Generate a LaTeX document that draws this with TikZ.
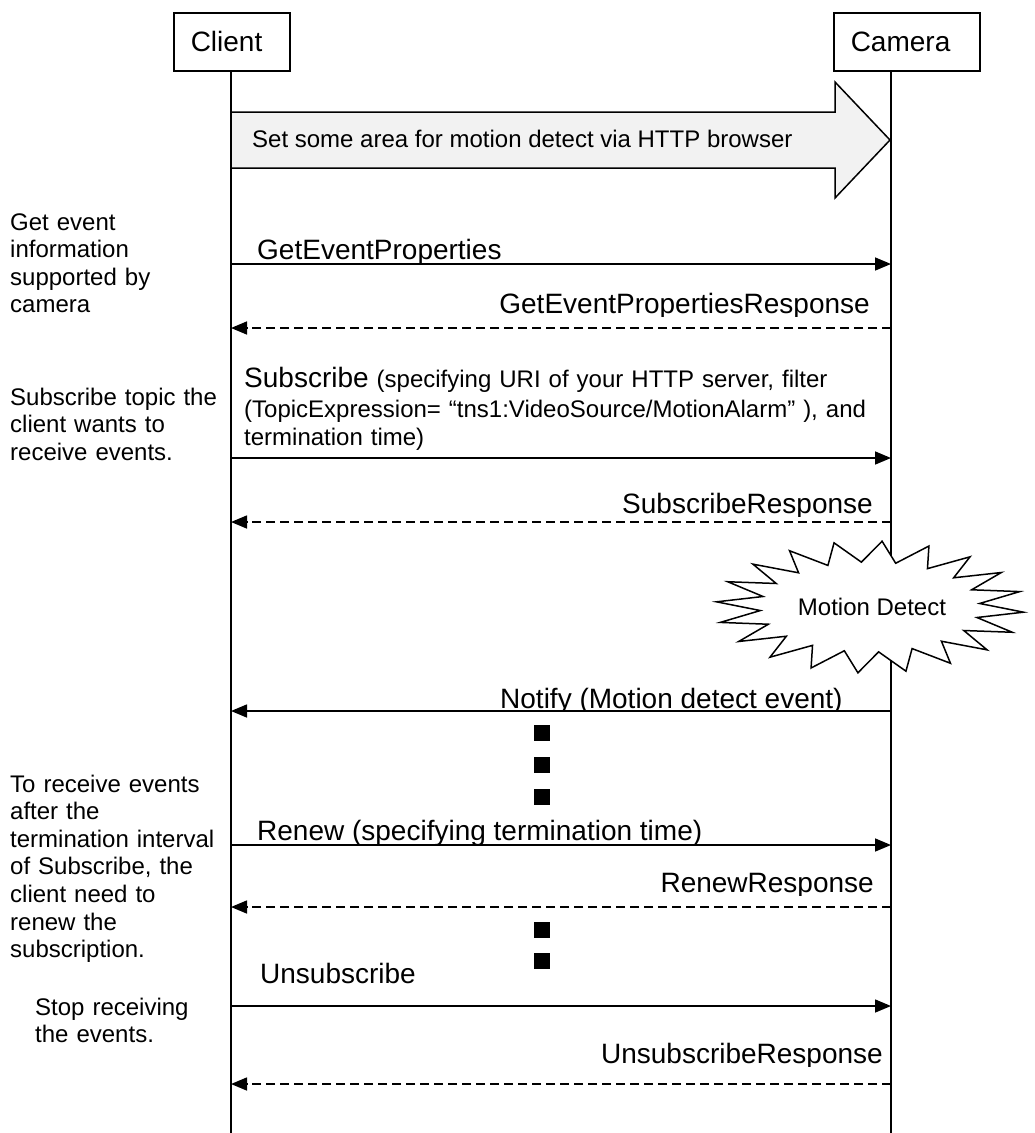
\documentclass[tikz,border=0pt]{standalone}
\usepackage{fontspec}
\setmainfont{Liberation Sans}
\usetikzlibrary{arrows.meta}

\newcommand\msgtext[6]{%
  \begin{scope}
    \clip (0,0) rectangle (1035,#5);
    \node[lbl,anchor=#2] (#1) at (#3,#4) {#6};
  \end{scope}}

\begin{document}
\begin{tikzpicture}[x=1pt,y=-1pt,
  actor/.style={draw,line width=1.5pt,fill=white,minimum height=58pt,inner xsep=17pt,
    align=left,font=\fontsize{28}{32}\selectfont,anchor=north west},
  life/.style={line width=1.5pt},
  lbl/.style={inner sep=0pt,font=\fontsize{28}{32}\selectfont},
  note/.style={inner sep=0pt,align=left,text width=230pt,font=\fontsize{24}{27.6}\selectfont,anchor=base west},
  call/.style={line width=1.6pt,-{Triangle[length=16pt,width=13pt]}},
  reply/.style={call,dash pattern=on 9pt off 5pt},
  dotsq/.style={fill=black,minimum size=16pt,inner sep=0pt},
  bigarrow/.style={draw,line width=1.5pt,fill=black!5},
  burst/.style={draw,line width=1.5pt,fill=white,line join=miter}]

\useasboundingbox (0,0) rectangle (1035,1133);

% participants
\node[actor,text width=82pt] (client) at (173,12) {Client};
\node[actor,text width=112pt] (camera) at (833,12) {Camera};

% lifelines
\coordinate (clTop) at (231,70);
\coordinate (clBot) at (231,1133);
\coordinate (caTop) at (891,70);
\coordinate (caBot) at (891,1133);
\draw[life] (clTop) -- (clBot);
\draw[life] (caTop) -- (caBot);

% configuration step shown as a block arrow
\draw[bigarrow] (231,112) -- (835,112) -- (835,82) -- (890,140) -- (835,198)
  -- (835,168) -- (231,168) -- cycle;
\node[inner sep=0pt,anchor=base west,font=\fontsize{24}{28}\selectfont] (setup)
  at (252,147) {Set some area for motion detect via HTTP browser};

% side notes
\node[note] (n1) at (10,230) {Get event\\information\\supported by\\camera};
\node[note] (n2) at (10,405) {Subscribe topic the\\client wants to\\receive events.};
\node[note] (n3) at (10,792) {To receive events\\after the\\termination interval\\of Subscribe, the\\client need to\\renew the\\subscription.};
\node[note] (n4) at (35,1015) {Stop receiving\\the events.};

% message end points
\coordinate (a1) at (231,264);  \coordinate (b1) at (891,264);
\coordinate (a2) at (231,328);  \coordinate (b2) at (891,328);
\coordinate (a3) at (231,458);  \coordinate (b3) at (891,458);
\coordinate (a4) at (231,522);  \coordinate (b4) at (891,522);
\coordinate (a5) at (231,711);  \coordinate (b5) at (891,711);
\coordinate (a6) at (231,845);  \coordinate (b6) at (891,845);
\coordinate (a7) at (231,907);  \coordinate (b7) at (891,907);
\coordinate (a8) at (231,1006); \coordinate (b8) at (891,1006);
\coordinate (a9) at (231,1084); \coordinate (b9) at (891,1084);

% message labels
\msgtext{l1}{base west}{257}{259}{263}{GetEventProperties}
\msgtext{l2}{base east}{870}{313}{316}{GetEventPropertiesResponse}
\node[inner sep=0pt,anchor=base west,align=left,text width=640pt,
  font=\fontsize{24}{30.5}\selectfont] (l3) at (244,387)
  {{\fontsize{28}{30.5}\selectfont Subscribe} (specifying URI of your HTTP server, filter\\
   (TopicExpression= “tns1:VideoSource/MotionAlarm” ), and\\[-3pt]
   termination time)};
\msgtext{l4}{base east}{873}{513}{516}{SubscribeResponse}
\msgtext{l5}{base west}{500}{708}{710}{Notify (Motion detect event)}
\msgtext{l6}{base west}{257}{840}{843}{Renew (specifying termination time)}
\msgtext{l7}{base east}{874}{892}{895}{RenewResponse}
\msgtext{l8}{base west}{260}{983}{1000}{Unsubscribe}
\msgtext{l9}{base east}{883}{1063}{1066}{UnsubscribeResponse}

% messages
\draw[call]  (a1) -- (b1);
\draw[reply] (b2) -- (a2);
\draw[call]  (a3) -- (b3);
\draw[reply] (b4) -- (a4);
\draw[call]  (b5) -- (a5);
\draw[call]  (a6) -- (b6);
\draw[reply] (b7) -- (a7);
\draw[call]  (a8) -- (b8);
\draw[reply] (b9) -- (a9);

% motion event burst on the camera lifeline
\draw[burst] plot[samples at={0,...,39},variable=\k]
  ({870+(mod(\k,2)==0 ? 154 : 110)*cos(9*\k+4.5)},
   {607+(mod(\k,2)==0 ? 66 : 45)*sin(9*\k+4.5)}) -- cycle;
\node[inner sep=0pt,font=\fontsize{24}{28}\selectfont] (motion) at (872,607) {Motion Detect};

% elided time marks
\node[dotsq] (d1) at (542,733) {};
\node[dotsq] (d2) at (542,765) {};
\node[dotsq] (d3) at (542,797) {};
\node[dotsq] (d4) at (542,930) {};
\node[dotsq] (d5) at (542,961) {};
\end{tikzpicture}
\end{document}
